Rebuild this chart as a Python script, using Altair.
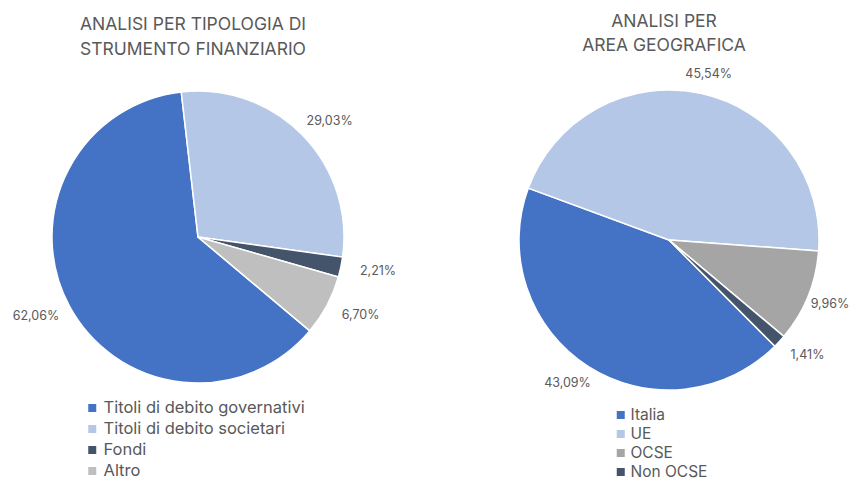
import altair as alt
import pandas as pd
import math

# Left pie: tipologia di strumento finanziario
left_categories = ["Titoli di debito governativi", "Titoli di debito societari", "Fondi", "Altro"]
left_values = [62.06, 29.03, 2.21, 6.70]
left_colors = ["#4472C4", "#B4C7E7", "#44546A", "#BFBFBF"]

# Right pie: area geografica
right_categories = ["Italia", "UE", "OCSE", "Non OCSE"]
right_values = [43.09, 45.54, 9.96, 1.41]
right_colors = ["#4472C4", "#B4C7E7", "#A5A5A5", "#44546A"]

left_title = ["ANALISI PER TIPOLOGIA DI", "STRUMENTO FINANZIARIO"]
right_title = ["ANALISI PER", "AREA GEOGRAFICA"]

FONT = "Inter"
GREY = "#595959"
W, H = 842, 472

left_df = pd.DataFrame({"cat": left_categories, "value": left_values, "idx": range(len(left_categories))})
right_df = pd.DataFrame({"cat": right_categories, "value": right_values, "idx": range(len(right_categories))})

label_expr = "replace(format(datum.value, '.2f'), '.', ',') + '%'"


def pie(df, colors, start_deg, cx, cy, r, legend_x, legend_y, row_h, label_off, leg_font):
    start = math.radians(start_deg)
    arc = alt.Chart(df).mark_arc(x=cx, y=cy, radius=r, stroke="white", strokeWidth=1.5).encode(
        theta=alt.Theta("value:Q", stack=True,
                        scale=alt.Scale(domain=[0, 100], range=[start, start + 2 * math.pi])),
        order=alt.Order("idx:Q"),
        color=alt.Color(
            "cat:N",
            scale=alt.Scale(domain=list(df["cat"]), range=colors),
            sort=list(df["cat"]),
            legend=alt.Legend(
                title=None, orient="none", legendX=legend_x, legendY=legend_y,
                symbolType="square", symbolSize=64, symbolStrokeWidth=0,
                labelFont=FONT, labelFontSize=leg_font, labelColor=GREY,
                rowPadding=0, clipHeight=row_h, labelOffset=label_off, labelLimit=400,
            ),
        ),
    )
    # data label just outside the slice, at its middle angle
    text = alt.Chart(df).transform_calculate(label=label_expr).transform_window(
        cum="sum(value)", sort=[alt.SortField("idx")], frame=[None, 0]
    ).transform_calculate(
        ang=f"{start} + (datum.cum - datum.value / 2) / 100 * 2 * PI"
    ).transform_calculate(
        lx=f"min({cx} + {r + 38} * sin(datum.ang), {W - 20})",
        ly=f"{cy} - {r + 20} * cos(datum.ang)",
    ).mark_text(font=FONT, fontSize=12.5, color=GREY).encode(
        x=alt.X("lx:Q", scale=None, axis=None),
        y=alt.Y("ly:Q", scale=None, axis=None),
        text="label:N",
    )
    return alt.layer(arc, text)


left = pie(left_df, left_colors, 130, 190, 229, 146, 76, 389.75, 20.5, 3, 16.5)
right = pie(right_df, right_colors, 135.1, 661, 232, 150, 605, 397.75, 18.5, 2, 15.5)

t_left = alt.Chart(pd.DataFrame({"a": [0]})).mark_text(
    x=185, y=8, baseline="top", align="center", font=FONT, fontSize=17.5,
    color=GREY, lineHeight=25,
).encode(text=alt.value(left_title))

t_right = alt.Chart(pd.DataFrame({"a": [0]})).mark_text(
    x=656, y=5, baseline="top", align="center", font=FONT, fontSize=17.5,
    color=GREY, lineHeight=24,
).encode(text=alt.value(right_title))

chart = alt.layer(left, right, t_left, t_right).resolve_scale(
    theta="independent", color="independent"
).properties(
    width=W, height=H, padding=0, autosize=alt.AutoSizeParams(type="none")
).configure_view(stroke=None)

chart.save("out.html", embed_options={"renderer": "svg", "actions": False})
